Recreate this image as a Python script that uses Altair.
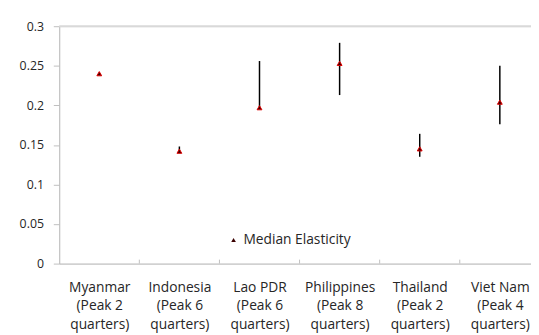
import json
import altair as alt
import pandas as pd

countries = ["Myanmar", "Indonesia", "Lao PDR", "Philippines", "Thailand", "Viet Nam"]
peaks = ["(Peak 2", "(Peak 6", "(Peak 6", "(Peak 8", "(Peak 2", "(Peak 4"]
median = [0.240, 0.142, 0.197, 0.253, 0.145, 0.204]
low = [0.240, 0.142, 0.197, 0.213, 0.135, 0.176]
high = [0.240, 0.148, 0.256, 0.279, 0.164, 0.250]
y_ticks = [0, 0.05, 0.1, 0.15, 0.2, 0.25, 0.3]
series_name = "Median Elasticity"

idx = list(range(len(countries)))
df = pd.DataFrame({"idx": idx, "country": countries, "median": median, "low": low,
                   "high": high, "series": [series_name] * len(countries)})
bounds_df = pd.DataFrame({"b": [i - 0.5 for i in idx[1:]]})

label_lines = [[c, p, "quarters)"] for c, p in zip(countries, peaks)]
label_expr = json.dumps(label_lines) + "[round(datum.value)]"

FONT = "Open Sans"
TXT = "#262626"
AX = "#bfbfbf"

# the last category is cut by the right edge of the picture, as in the original
xscale = alt.Scale(domain=[-0.5, len(countries) - 0.611], nice=False, zero=False)
yscale = alt.Scale(domain=[0, 0.3], nice=False, zero=True)

x_axis = alt.Axis(values=idx, labelExpr=label_expr, labelAngle=0, grid=False,
                  labelFont=FONT, labelFontSize=14, labelColor=TXT,
                  labelLineHeight=19, labelPadding=17, ticks=False,
                  labelAlign="center", labelFlush=False, labelOverlap=False,
                  domainColor=AX, labelBaseline="top")
x_enc = alt.X("idx:Q", scale=xscale, title=None, axis=x_axis)
y_enc = alt.Y("median:Q", scale=yscale, title=None,
              axis=alt.Axis(values=y_ticks, grid=False, labelFont=FONT, labelFontSize=12.5,
                            labelColor=TXT, tickSize=6, tickColor=AX, domainColor=AX,
                            labelPadding=10, labelExpr="format(datum.value, '')"))

top = alt.Chart(pd.DataFrame({"v": [y_ticks[-1]]})).mark_rule(
    color="#d9d9d9", strokeWidth=2).encode(y=alt.Y("v:Q", scale=yscale))

bounds = alt.Chart(bounds_df).mark_rule(color=AX, strokeWidth=1).encode(
    x=alt.X("b:Q", scale=xscale), y=alt.value(237), y2=alt.value(241))

bars = alt.Chart(df).mark_rule(color="black", strokeWidth=1.5).encode(
    x=x_enc, y=alt.Y("low:Q", scale=yscale), y2="high:Q")

pts = alt.Chart(df).mark_point(filled=True, size=24, fill="#3a0000", stroke="#e00000",
                               strokeWidth=1, opacity=1).encode(
    x=x_enc, y=y_enc,
    shape=alt.Shape("series:N", scale=alt.Scale(range=["triangle-up"]),
                    legend=alt.Legend(title=None, orient="none", legendX=170, legendY=210,
                                      labelFont=FONT, labelFontSize=14, labelColor=TXT,
                                      symbolSize=22, symbolFillColor="#3a0000",
                                      symbolStrokeColor="#e00000", symbolStrokeWidth=1,
                                      labelOffset=3)))

chart = alt.layer(bars, pts, top, bounds).properties(
    width=479, height=241,
    autosize=alt.AutoSizeParams(type="none"),
    padding={"left": 52, "top": 16, "right": 0, "bottom": 70},
).configure_view(stroke=None).configure(background="white")

chart.save("out.html", embed_options={"renderer": "svg", "actions": False})
